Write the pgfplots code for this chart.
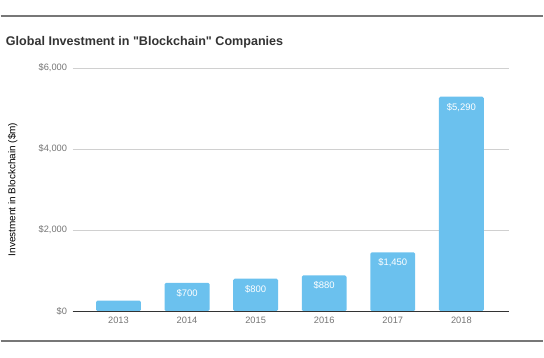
\documentclass[border=0pt]{standalone}
\usepackage{pgfplots}
\pgfplotsset{compat=1.18}
\usepackage{fontspec}
\setmainfont{Liberation Sans}
\newfontfamily\tfont{Liberation Sans}
\definecolor{barblue}{HTML}{6BC1EE}
\definecolor{ticktxt}{HTML}{757575}
\definecolor{gridc}{HTML}{D0D0D0}
\definecolor{rulec}{HTML}{777777}
\begin{document}
\begin{tikzpicture}[x=1pt,y=1pt]
\path (0,0) rectangle (544,358);
\draw[rulec, line width=1.5pt] (0,342) -- (544,342);
\draw[rulec, line width=1.5pt] (0,16) -- (544,16);
\node[anchor=west, text=black!80, font=\tfont\bfseries\fontsize{12.6}{14}\selectfont, inner sep=0pt] at (5,316) {Global Investment in "Blockchain" Companies};
\begin{axis}[
  at={(72pt,46pt)}, anchor=south west,
  scale only axis, width=438pt, height=244pt,
  ymin=0, ymax=6000, xmin=-0.67, xmax=5.7,
  axis line style={draw=none},
  ytick={0,2000,4000,6000},
  yticklabels={{\$0},{\$2,000},{\$4,000},{\$6,000}},
  xtick={0,...,5}, xticklabels={2013,2014,2015,2016,2017,2018},
  ymajorgrids, grid style={gridc, line width=0.6pt},
  major tick length=0pt,
  yticklabel style={text=ticktxt, font=\fontsize{9.3}{10}\selectfont, xshift=-2pt},
  xticklabel style={text=ticktxt, font=\fontsize{9.3}{10}\selectfont, yshift=-2pt},
  ylabel={Investment in Blockchain (\$m)},
  ylabel style={text=black!75, font=\fontsize{9.5}{11}\selectfont},
  every axis y label/.style={at={(axis description cs:-0.137,0.5)}, rotate=90, anchor=center},
  clip=false,
]
\addplot[ybar, bar width=45pt, fill=barblue, draw=none, rounded corners=1.5pt,
  nodes near coords, point meta=explicit symbolic,
  every node near coord/.style={anchor=north, text=white, font=\fontsize{9.5}{11}\selectfont, yshift=-3pt}]
  coordinates {(0,260)[] (1,700)[\$700] (2,800)[\$800] (3,880)[\$880] (4,1450)[{\$1,450}] (5,5290)[{\$5,290}]};
\draw[black!80, line width=0.8pt] (axis cs:-0.67,0) -- (axis cs:5.7,0);
\end{axis}
\end{tikzpicture}
\end{document}
